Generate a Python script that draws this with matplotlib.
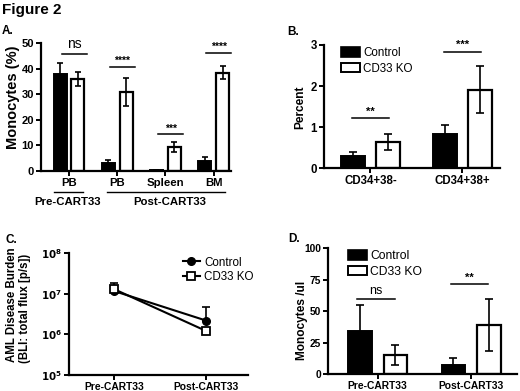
import matplotlib
matplotlib.use("Agg")
import matplotlib.pyplot as plt
import numpy as np
from matplotlib.patches import Patch
from matplotlib.lines import Line2D

plt.rcParams['font.family'] = ['Liberation Sans', 'DejaVu Sans']

# ---------------- data ----------------
# Panel A
a_groups = ["PB", "PB", "Spleen", "BM"]
a_ctrl = [38.0, 3.0, 0.3, 4.0]
a_ctrl_err = [4.2, 1.2, 0.1, 1.4]
a_ko = [36.0, 31.0, 9.2, 38.5]
a_ko_err = [2.8, 5.5, 2.0, 2.5]
a_sig = ["ns", "****", "***", "****"]
a_sig_y = [45.8, 40.8, 14.4, 46.3]

# Panel B
b_groups = ["CD34+38-", "CD34+38+"]
b_ctrl = [0.30, 0.83]
b_ctrl_err = [0.10, 0.23]
b_ko = [0.64, 1.91]
b_ko_err = [0.20, 0.57]
b_sig = ["**", "***"]
b_sig_y = [1.22, 2.84]

# Panel C
c_groups = ["Pre-CART33", "Post-CART33"]
c_ctrl = [1.17e7, 2.2e6]
c_ctrl_up = [1.17e7, 4.7e6]
c_ko = [1.3e7, 1.22e6]
c_ko_up = [1.9e7, 1.22e6]
c_yticklabels = [r"$\mathbf{10^{5}}$", r"$\mathbf{10^{6}}$", r"$\mathbf{10^{7}}$", r"$\mathbf{10^{8}}$"]

# Panel D
d_groups = ["Pre-CART33", "Post-CART33"]
d_ctrl = [34.4, 7.2]
d_ctrl_err = [20.5, 5.3]
d_ko = [15.1, 39.0]
d_ko_err = [8.0, 20.7]
d_sig = ["ns", "**"]
d_sig_y = [59.7, 71.6]

labels = ["Control", "CD33 KO"]

W, H = 520, 391
fig = plt.figure(figsize=(W / 100, H / 100), dpi=100)


def rect(l, t, r, b):
    return [l / W, 1 - b / H, (r - l) / W, (b - t) / H]


def ftext(x, y, s, **kw):
    fig.text(x / W, 1 - y / H, s, **kw)


def style(ax, tick_fs):
    for s in ["top", "right"]:
        ax.spines[s].set_visible(False)
    for s in ["left", "bottom"]:
        ax.spines[s].set_linewidth(1.6)
    ax.tick_params(axis="both", width=1.4, length=3.5, labelsize=tick_fs, pad=1.5)
    for lab in ax.get_xticklabels() + ax.get_yticklabels():
        lab.set_fontweight("bold")


def bars(ax, ctrl, cerr, ko, kerr, bw, off, cap):
    x = np.arange(len(ctrl))
    ax.bar(x - off, ctrl, bw, color="black", edgecolor="black", linewidth=1.4, zorder=2)
    ax.bar(x + off, ko, bw, color="white", edgecolor="black", linewidth=1.6, zorder=2)
    ax.errorbar(x - off, ctrl, yerr=cerr, fmt="none", ecolor="black", elinewidth=1.2,
                capsize=cap, capthick=1.2, zorder=3)
    ax.errorbar(x + off, ko, yerr=kerr, fmt="none", ecolor="black", elinewidth=1.2,
                capsize=cap, capthick=1.2, zorder=3)
    return x


# ---------------- Panel A ----------------
axA = fig.add_axes(rect(41, 43.3, 231, 170.7))
xA = bars(axA, a_ctrl, a_ctrl_err, a_ko, a_ko_err, 0.27, 0.185, 2.4)
axA.set_xlim(-0.58, 3.36)
axA.set_ylim(0, 50)
axA.set_yticks([0, 10, 20, 30, 40, 50])
axA.set_xticks(xA)
axA.set_xticklabels(a_groups)
style(axA, 8)
axA.tick_params(axis="x", labelsize=8.2)
for i, (s, y) in enumerate(zip(a_sig, a_sig_y)):
    axA.plot([i - 0.15, i + 0.37], [y, y], color="black", lw=1.1, clip_on=False)
    if s == "ns":
        axA.text(i + 0.11, y + 1.0, s, ha="center", va="bottom", fontsize=10)
    else:
        axA.text(i + 0.11, y + 0.2, s, ha="center", va="bottom", fontsize=7.5, fontweight="bold")
# group brackets
axA.plot([-0.31, 0.29], [-0.168, -0.168], transform=axA.get_xaxis_transform(),
         color="black", lw=1.0, clip_on=False)
axA.plot([0.79, 3.23], [-0.168, -0.168], transform=axA.get_xaxis_transform(),
         color="black", lw=1.0, clip_on=False)
ftext(67.7, 201.7, "Pre-CART33", ha="center", va="center", fontsize=8.2, fontweight="bold")
ftext(170, 201.7, "Post-CART33", ha="center", va="center", fontsize=8.2, fontweight="bold")
ftext(13, 97, "Monocytes (%)", rotation=90, ha="center", va="center", fontsize=10.5, fontweight="bold")

# ---------------- Panel B ----------------
axB = fig.add_axes(rect(324, 45, 500, 168.3))
xB = bars(axB, b_ctrl, b_ctrl_err, b_ko, b_ko_err, 0.26, 0.19, 3.0)
axB.set_xlim(-0.505, 1.41)
axB.set_ylim(0, 3)
axB.set_yticks([0, 1, 2, 3])
axB.set_xticks(xB)
axB.set_xticklabels(b_groups)
style(axB, 8.3)
for i, (s, y) in enumerate(zip(b_sig, b_sig_y)):
    axB.plot([i - 0.2, i + 0.2], [y, y], color="black", lw=1.1, clip_on=False)
    axB.text(i, y + 0.03, s, ha="center", va="bottom", fontsize=8, fontweight="bold")
ftext(300, 107, "Percent", rotation=90, ha="center", va="center", fontsize=8.6, fontweight="bold")
hB = [Patch(facecolor="black", edgecolor="black", linewidth=1.2),
      Patch(facecolor="white", edgecolor="black", linewidth=1.4)]
fig.legend(hB, labels, loc="center left", bbox_to_anchor=(341 / W, 1 - 60.8 / H),
           frameon=False, fontsize=8.4, handlelength=1.65, handleheight=0.85,
           handletextpad=0.25, labelspacing=0.32, borderpad=0, borderaxespad=0)

# ---------------- Panel C ----------------
axC = fig.add_axes(rect(69, 253.3, 248, 375))
xC = np.arange(len(c_groups))
axC.set_yscale("log")
axC.errorbar(xC, c_ctrl, yerr=[np.zeros(2), np.array(c_ctrl_up) - np.array(c_ctrl)],
             fmt="none", ecolor="black", elinewidth=1.2, capsize=3, capthick=1.2, zorder=2)
axC.errorbar(xC, c_ko, yerr=[np.zeros(2), np.array(c_ko_up) - np.array(c_ko)],
             fmt="none", ecolor="black", elinewidth=1.2, capsize=3, capthick=1.2, zorder=2)
axC.plot(xC, c_ctrl, color="black", lw=1.5, marker="o", ms=5.5, mfc="black", mec="black", zorder=3)
axC.plot(xC, c_ko, color="black", lw=1.5, marker="s", ms=5.8, mfc="white", mec="black", mew=1.3, zorder=4)
axC.set_xlim(-0.494, 1.458)
axC.set_ylim(1e5, 1e8)
axC.set_yticks([1e5, 1e6, 1e7, 1e8])
axC.set_yticklabels(c_yticklabels)
axC.yaxis.set_minor_locator(matplotlib.ticker.NullLocator())
axC.set_xticks(xC)
axC.set_xticklabels(c_groups)
style(axC, 7.4)
ftext(12, 305, "AML Disease Burden", rotation=90, ha="center", va="center", fontsize=8.3, fontweight="bold")
ftext(25, 308, "(BLI: total flux [p/s])", rotation=90, ha="center", va="center", fontsize=8.3, fontweight="bold")
hC = [Line2D([], [], color="black", lw=1.5, marker="o", ms=5.5, mfc="black"),
      Line2D([], [], color="black", lw=1.5, marker="s", ms=5.8, mfc="white", mew=1.3)]
fig.legend(hC, labels, loc="center left", bbox_to_anchor=(183 / W, 1 - 270 / H),
           frameon=False, fontsize=8.4, handlelength=1.45, handletextpad=0.35,
           labelspacing=0.25, borderpad=0, borderaxespad=0)

# ---------------- Panel D ----------------
axD = fig.add_axes(rect(327.7, 248.3, 517, 374))
xD = bars(axD, d_ctrl, d_ctrl_err, d_ko, d_ko_err, 0.25, 0.19, 3.0)
axD.set_xlim(-0.535, 1.49)
axD.set_ylim(0, 100)
axD.set_yticks([0, 25, 50, 75, 100])
axD.set_xticks(xD)
axD.set_xticklabels(d_groups)
style(axD, 7.4)
for i, (s, y) in enumerate(zip(d_sig, d_sig_y)):
    axD.plot([i - 0.22, i + 0.18], [y, y], color="black", lw=1.1, clip_on=False)
    if s == "ns":
        axD.text(i - 0.02, y + 1.5, s, ha="center", va="bottom", fontsize=9)
    else:
        axD.text(i - 0.02, y + 1.0, s, ha="center", va="bottom", fontsize=8, fontweight="bold")
ftext(302, 320, "Monocytes /ul", rotation=90, ha="center", va="center", fontsize=8.6, fontweight="bold")
hD = [Patch(facecolor="black", edgecolor="black", linewidth=1.2),
      Patch(facecolor="white", edgecolor="black", linewidth=1.4)]
fig.legend(hD, labels, loc="center left", bbox_to_anchor=(348.3 / W, 1 - 263.9 / H),
           frameon=False, fontsize=8.7, handlelength=1.55, handleheight=0.8,
           handletextpad=0.25, labelspacing=0.3, borderpad=0, borderaxespad=0)

# ---------------- panel letters ----------------
ftext(2, 10, "Figure 2", ha="left", va="center", fontsize=11, fontweight="bold")
ftext(2, 31.5, "A.", ha="left", va="center", fontsize=8.5, fontweight="bold")
ftext(287, 32, "B.", ha="left", va="center", fontsize=8.5, fontweight="bold")
ftext(6, 240, "C.", ha="left", va="center", fontsize=8.5, fontweight="bold")
ftext(288, 239, "D.", ha="left", va="center", fontsize=8.5, fontweight="bold")

fig.savefig("out.png", dpi=100)
